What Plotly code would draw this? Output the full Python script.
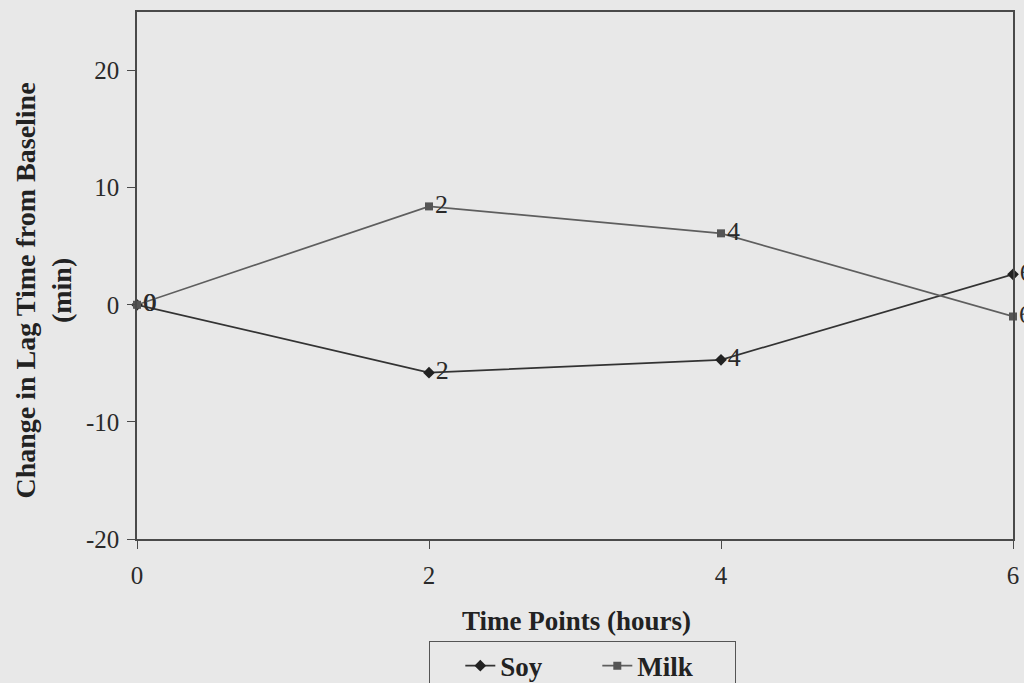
import plotly.graph_objects as go

# Time points (hours) and change in lag time from baseline (min)
hours = [0, 2, 4, 6]
soy = [0.0, -5.8, -4.7, 2.6]
milk = [0.0, 8.4, 6.1, -1.0]
point_labels = ["0", "2", "4", "6"]
y_ticks = [-20, -10, 0, 10, 20]
y_tick_text = ["-20", "-10", "0", "10", "20"]

font_family = "Liberation Serif, Times New Roman, serif"
bg = "#e8e8e8"
ink = "#2a2a2a"

fig = go.Figure()

fig.add_trace(go.Scatter(
    x=hours, y=soy, name="Soy", mode="lines+markers+text",
    text=point_labels, textposition="middle right",
    textfont=dict(family=font_family, size=26, color=ink),
    line=dict(color="#333333", width=1.7),
    marker=dict(symbol="diamond", size=9, color="#222222"),
    cliponaxis=False,
))

fig.add_trace(go.Scatter(
    x=hours, y=milk, name="Milk", mode="lines+markers+text",
    text=point_labels, textposition="middle right",
    textfont=dict(family=font_family, size=26, color=ink),
    line=dict(color="#5e5e5e", width=1.7),
    marker=dict(symbol="square", size=8, color="#555555"),
    cliponaxis=False,
))

fig.update_layout(
    width=1024, height=683,
    margin=dict(l=137, r=11, t=12, b=144, autoexpand=False),
    paper_bgcolor=bg, plot_bgcolor=bg,
    font=dict(family=font_family, size=25, color=ink),
    showlegend=True,
    legend=dict(
        orientation="h", xref="container", yref="container",
        x=0.419, y=0.062, xanchor="left", yanchor="top",
        bordercolor="#555555", borderwidth=1, bgcolor=bg,
        font=dict(family=font_family, size=27, color="#222222", weight="bold"),
        title=dict(text="&nbsp;&nbsp;&nbsp;", side="left",
                   font=dict(family=font_family, size=27)),
        entrywidth=92, entrywidthmode="pixels",
        tracegroupgap=0,
    ),
)

fig.update_xaxes(
    range=[0, 6], tickvals=hours, ticktext=point_labels,
    showgrid=False, zeroline=False,
    showline=True, linecolor="#4a4a4a", linewidth=1.5, mirror=True,
    ticks="outside", ticklen=8, tickcolor="#4a4a4a",
    ticklabelstandoff=5,
    tickfont=dict(family=font_family, size=25, color=ink),
)

fig.update_yaxes(
    range=[-20, 25], tickvals=y_ticks, ticktext=y_tick_text,
    showgrid=False, zeroline=False,
    showline=True, linecolor="#4a4a4a", linewidth=1.5, mirror=True,
    ticks="outside", ticklen=8, tickcolor="#4a4a4a",
    ticklabelstandoff=3,
    tickfont=dict(family=font_family, size=25, color=ink),
)

fig.add_annotation(
    text="<b>Time Points (hours)</b>",
    xref="paper", yref="paper", x=0.502, y=-0.156,
    xanchor="center", yanchor="middle", showarrow=False,
    font=dict(family=font_family, size=27, color="#222222"),
)

fig.add_annotation(
    text="<b>Change in Lag Time from Baseline<br>(min)</b>",
    xref="paper", yref="paper", x=-0.107, y=0.472,
    xanchor="center", yanchor="middle", textangle=-90, showarrow=False,
    font=dict(family=font_family, size=28, color="#222222"),
)

fig.write_html("out.html")
